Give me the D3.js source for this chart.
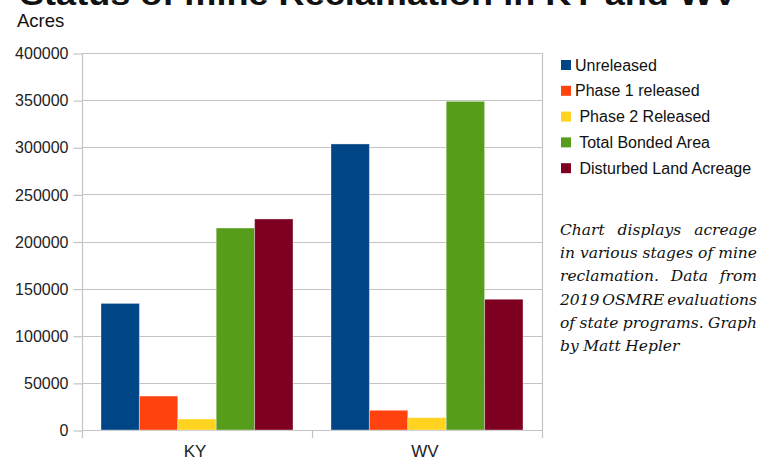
<!DOCTYPE html>
<html>
<head>
<meta charset="utf-8">
<script src="https://cdn.jsdelivr.net/npm/d3@7/dist/d3.min.js"></script>
<style>
  html, body { margin: 0; padding: 0; background: #fff; }
  svg { display: block; }
  text { font-family: "Liberation Sans", Arial, sans-serif; }
</style>
</head>
<body>
<svg id="chart" width="760" height="460"></svg>
<script>
// chart data
var states = ['KY', 'WV'];
var seriesNames = ['Unreleased', 'Phase 1 released', ' Phase 2 Released', ' Total Bonded Area', ' Disturbed Land Acreage'];
var seriesColors = ['#004586', '#ff420e', '#ffd320', '#579d1c', '#7e0021'];
var kyValues = [134300, 36000, 11700, 214300, 223900];
var wvValues = [303500, 20900, 13100, 348700, 138700];
var yTicks = [0, 50000, 100000, 150000, 200000, 250000, 300000, 350000, 400000];
var captionLines = [
  'Chart displays acreage',
  'in various stages of mine',
  'reclamation. Data from',
  '2019 OSMRE evaluations',
  'of state programs. Graph',
  'by Matt Hepler'
];

var svg = d3.select('#chart');

var plot = { left: 82, right: 542, top: 53, bottom: 430 },
    gridColor = '#c4c4c4';

var rows = states.map(function (s, i) {
  return { state: s, values: i === 0 ? kyValues : wvValues };
});

var x0 = d3.scaleBand().domain(states).range([plot.left, plot.right]);
var x1 = d3.scaleBand().domain(d3.range(seriesNames.length))
  .range([19, x0.bandwidth() - 19]);
var y = d3.scaleLinear().domain([0, 400000]).range([plot.bottom, plot.top]);
var color = d3.scaleOrdinal().domain(d3.range(seriesNames.length)).range(seriesColors);

// title, mostly cropped off the top in the original
svg.append('text')
  .attr('x', 20)
  .attr('y', 5)
  .attr('textLength', 717)
  .attr('lengthAdjust', 'spacingAndGlyphs')
  .style('font-size', '32px')
  .style('font-weight', 'bold')
  .style('fill', '#111')
  .text('Status of mine Reclamation in KY and WV');

svg.append('text')
  .attr('x', 17)
  .attr('y', 27)
  .style('font-size', '18.5px')
  .style('fill', '#111')
  .text('Acres');

// horizontal grid
svg.append('g')
  .selectAll('line')
  .data(yTicks)
  .join('line')
  .attr('x1', plot.left)
  .attr('x2', plot.right)
  .attr('y1', function (d) { return Math.round(y(d)) + 0.5; })
  .attr('y2', function (d) { return Math.round(y(d)) + 0.5; })
  .attr('stroke', gridColor)
  .attr('stroke-width', 1.2);

// y axis
var yAxis = svg.append('g')
  .attr('transform', 'translate(' + (plot.left + 0.5) + ',0.5)')
  .call(d3.axisLeft(y).tickValues(yTicks).tickSize(9).tickPadding(5)
    .tickFormat(d3.format('d')));
yAxis.select('.domain').remove();
yAxis.selectAll('.tick line').attr('stroke', gridColor).attr('stroke-width', 1.2);
yAxis.selectAll('.tick text')
  .style('font-family', '"Liberation Sans", Arial, sans-serif')
  .style('font-size', '16px')
  .attr('fill', '#222');

// plot frame (left and right) and category ticks
svg.append('g')
  .selectAll('line')
  .data([plot.left, x0('WV'), plot.right])
  .join('line')
  .attr('x1', function (d) { return d + 0.5; })
  .attr('x2', function (d) { return d + 0.5; })
  .attr('y1', function (d) { return d === x0('WV') ? plot.bottom : plot.top; })
  .attr('y2', plot.bottom + 8)
  .attr('stroke', gridColor)
  .attr('stroke-width', 1.2);

// bars
var groups = svg.append('g')
  .selectAll('g')
  .data(rows)
  .join('g')
  .attr('transform', function (d) { return 'translate(' + x0(d.state) + ',0)'; });

groups.selectAll('rect')
  .data(function (d) { return d.values; })
  .join('rect')
  .attr('x', function (d, i) { return x1(i); })
  .attr('y', function (d) { return y(d); })
  .attr('width', x1.bandwidth())
  .attr('height', function (d) { return y(0) - y(d); })
  .attr('fill', function (d, i) { return color(i); })
  .attr('stroke', '#fff')
  .attr('stroke-opacity', 0.35)
  .attr('stroke-width', 1);

// category labels
svg.append('g')
  .selectAll('text')
  .data(states)
  .join('text')
  .attr('x', function (d) { return x0(d) + x0.bandwidth() / 2 - 2; })
  .attr('y', 457)
  .attr('text-anchor', 'middle')
  .style('font-size', '17px')
  .style('fill', '#222')
  .text(function (d) { return d; });

// legend
var legend = svg.append('g')
  .attr('transform', 'translate(561,0)')
  .selectAll('g')
  .data(seriesNames)
  .join('g')
  .attr('transform', function (d, i) { return 'translate(0,' + (60 + i * 25.8) + ')'; });

legend.append('rect')
  .attr('width', 10)
  .attr('height', 10)
  .attr('fill', function (d, i) { return color(i); });

legend.append('text')
  .attr('x', 14)
  .attr('y', 10.5)
  .style('font-size', '16px')
  .style('white-space', 'pre')
  .attr('xml:space', 'preserve')
  .style('fill', '#111')
  .text(function (d) { return d; });

// justified italic caption
var cap = { left: 560, right: 757, top: 235, lineHeight: 23.2 };
captionLines.forEach(function (line, li) {
  var words = line.split(' '),
      g = svg.append('g'),
      ty = cap.top + li * cap.lineHeight;
  var nodes = words.map(function (w) {
    return g.append('text')
      .attr('y', ty)
      .style('font-family', '"DejaVu Serif", serif')
      .style('font-style', 'italic')
      .style('font-size', '15.5px')
      .style('fill', '#111')
      .text(w);
  });
  var widths = nodes.map(function (n) { return n.node().getComputedTextLength(); }),
      total = d3.sum(widths),
      last = li === captionLines.length - 1,
      gap = last || words.length < 2 ? 4.5 : (cap.right - cap.left - total) / (words.length - 1),
      cx = cap.left;
  nodes.forEach(function (n, i) {
    n.attr('x', cx);
    cx += widths[i] + gap;
  });
});
</script>
</body>
</html>
